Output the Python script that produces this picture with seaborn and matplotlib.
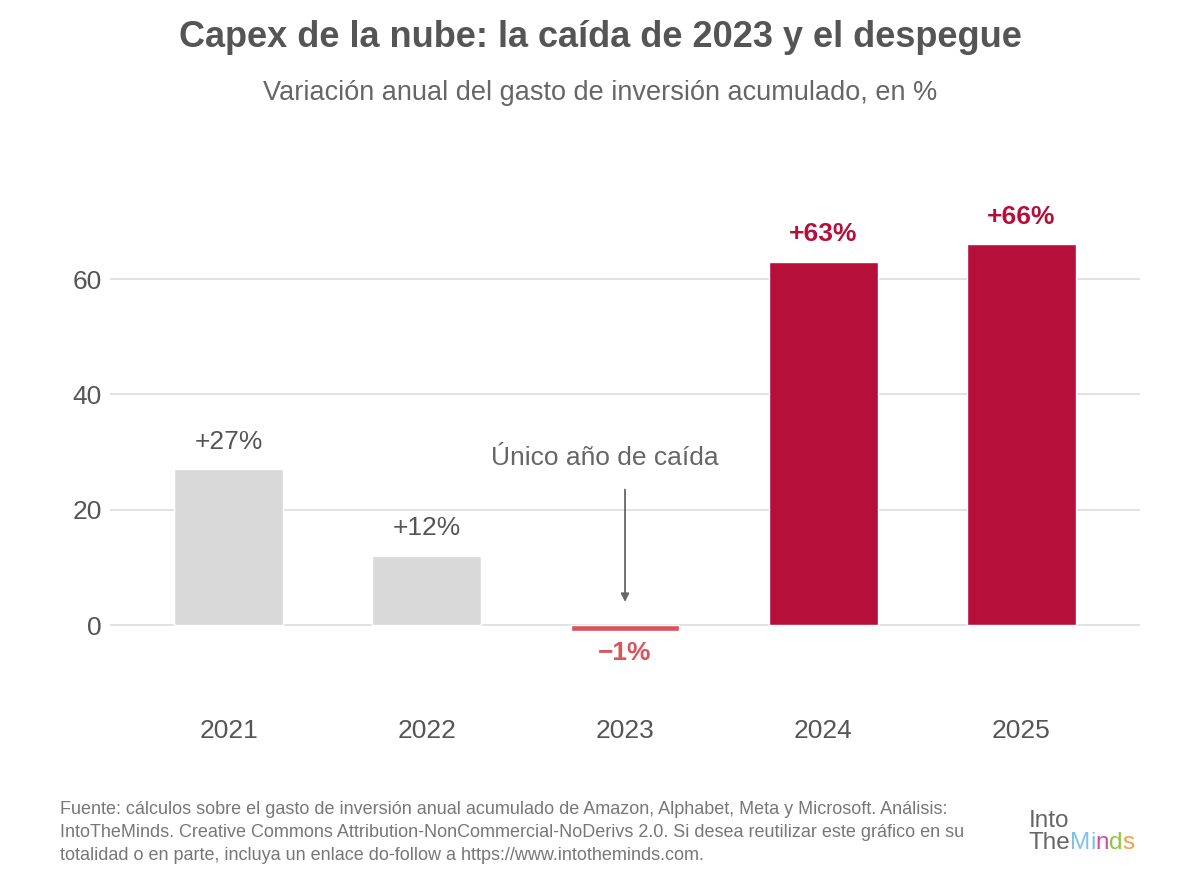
import matplotlib
matplotlib.use("Agg")
import matplotlib.pyplot as plt
import seaborn as sns
import pandas as pd

# ---- Data ----
years = ["2021", "2022", "2023", "2024", "2025"]
growth = [27, 12, -1, 63, 66]
labels = ["+27%", "+12%", "\u22121%", "+63%", "+66%"]
bar_colors = ["#d9d9d9", "#d9d9d9", "#d9545b", "#b50f3a", "#b50f3a"]
label_colors = ["#555555", "#555555", "#d9545b", "#b50f3a", "#b50f3a"]
label_weights = ["normal", "normal", "bold", "bold", "bold"]
y_ticks = [0, 20, 40, 60]

df = pd.DataFrame({"year": years, "growth": growth})

sns.set_theme(style="white")
plt.rcParams["font.family"] = ["Liberation Sans", "DejaVu Sans"]

fig = plt.figure(figsize=(12, 8.86), dpi=100)
ax = fig.add_axes([0.0917, 0.2295, 0.8583, 0.5857])

sns.barplot(data=df, x="year", y="growth", hue="year", palette=bar_colors,
            width=0.55, legend=False, ax=ax, saturation=1)

ax.set_xlim(-0.6, 4.6)
ax.set_ylim(-10, 80)
ax.set_yticks(y_ticks)
ax.yaxis.grid(True, color="#dddddd", linewidth=1.2)
ax.set_axisbelow(True)
for s in ax.spines.values():
    s.set_visible(False)
ax.set_xlabel("")
ax.set_ylabel("")
ax.tick_params(axis="y", labelsize=19, labelcolor="#555555", length=0, pad=6)
ax.tick_params(axis="x", labelsize=19, labelcolor="#555555", length=0, pad=26)

# value labels
for i, (v, lab) in enumerate(zip(growth, labels)):
    off = 20 if v >= 0 else -16
    ax.annotate(lab, (i, v), xytext=(0, off), textcoords="offset points",
                ha="center", va="center", fontsize=19,
                color=label_colors[i], fontweight=label_weights[i])

# annotation for 2023
ax.annotate("", xy=(2, 4), xytext=(2, 23.5),
            arrowprops=dict(arrowstyle="-|>", color="#666666", lw=1.3,
                            mutation_scale=12, shrinkA=0, shrinkB=0))
ax.text(1.9, 29, "Único año de caída", ha="center", va="center",
        fontsize=19, color="#666666")

# titles
fig.text(0.5, 0.958, "Capex de la nube: la caída de 2023 y el despegue",
         ha="center", va="center", fontsize=26, fontweight="bold", color="#555555")
fig.text(0.5, 0.895, "Variación anual del gasto de inversión acumulado, en %",
         ha="center", va="center", fontsize=19.5, color="#666666")

# source
source = ("Fuente: cálculos sobre el gasto de inversión anual acumulado de Amazon, Alphabet, Meta y Microsoft. Análisis:\n"
          "IntoTheMinds. Creative Commons Attribution-NonCommercial-NoDerivs 2.0. Si desea reutilizar este gráfico en su\n"
          "totalidad o en parte, incluya un enlace do-follow a https://www.intotheminds.com.")
fig.text(0.05, 0.060, source, ha="left", va="center", fontsize=13,
         color="#777777", linespacing=1.45)

# logo text
fig.canvas.draw()
renderer = fig.canvas.get_renderer()
fig.text(0.857, 0.0735, "Into", fontsize=17.5, color="#666666", ha="left", va="center")
t = fig.text(0.857, 0.049, "The", fontsize=17.5, color="#666666", ha="left", va="center")
x0 = 0.857 + t.get_window_extent(renderer).width / fig.bbox.width
for ch, c in zip("Minds", ["#7cc3e6", "#7cc3e6", "#d54c9c", "#8cc63f", "#f0a24a"]):
    t = fig.text(x0, 0.049, ch, fontsize=17.5, color=c, ha="left", va="center")
    x0 += t.get_window_extent(renderer).width / fig.bbox.width

fig.savefig("out.png", dpi=100)
